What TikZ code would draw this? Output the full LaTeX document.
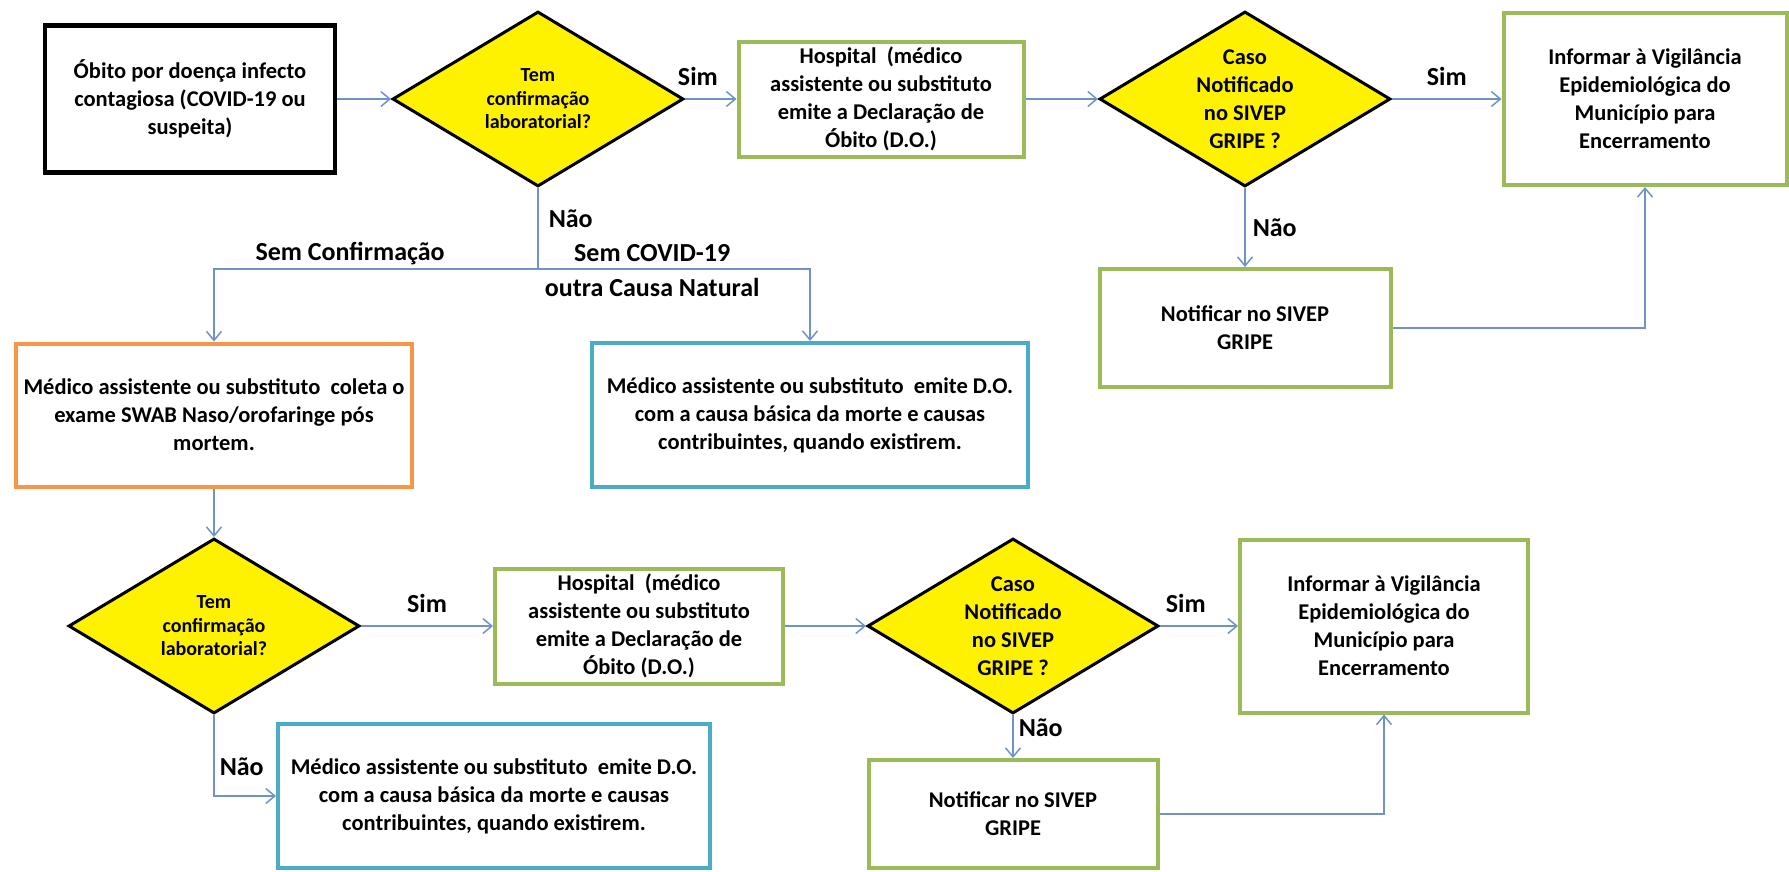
\documentclass[tikz,border=0pt]{standalone}
\usepackage{fontspec}
\setmainfont{Carlito}
\usetikzlibrary{shapes.geometric,arrows.meta}
\definecolor{boxgreen}{HTML}{9BBB59}
\definecolor{boxorange}{HTML}{F79646}
\definecolor{boxblue}{HTML}{4BACC6}
\definecolor{flowblue}{HTML}{6F93C6}
\begin{document}
\begin{tikzpicture}[x=1pt, y=-1pt,
                    every node/.style={font=\fontsize{22.5}{28}\selectfont\bfseries, align=center, inner sep=0pt},
                    box/.style={draw=boxgreen, line width=4pt},
                    decision/.style={diamond, draw=black, fill=yellow, line width=3pt, aspect=1.66,
                                     minimum width=291, minimum height=175},
                    lbl/.style={font=\fontsize{26}{30}\selectfont\bfseries},
                    flow/.style={draw=flowblue, line width=1.5pt, -{Straight Barb[length=9pt, width=15pt]}}]
  \useasboundingbox (0,0) rectangle (1789,871);
  \node[box, draw=black, line width=4.5pt, minimum width=290, minimum height=147] (start) at (190,99)
    {Óbito por doença infecto\\contagiosa (COVID-19 ou\\suspeita)};
  \node[decision, font=\fontsize{20}{23.5}\selectfont\bfseries] (conf1) at (538,99)
    {Tem\\confirmação\\laboratorial?};
  \node[box, minimum width=285, minimum height=115] (hosp1) at (881,99)
    {Hospital~ (médico\\assistente ou substituto\\emite a Declaração de\\Óbito (D.O.)};
  \node[decision] (notif1q) at (1245,99) {Caso\\Notificado\\no SIVEP\\GRIPE ?};
  \node[box, minimum width=283, minimum height=172] (info1) at (1645,99)
    {Informar à Vigilância\\Epidemiológica do\\Município para\\Encerramento};
  \node[box, minimum width=291, minimum height=118] (notif1) at (1245,328) {Notificar no SIVEP\\GRIPE};
  \node[box, draw=boxorange, minimum width=396, minimum height=143] (coleta) at (214,415)
    {Médico assistente ou substituto~ coleta o\\exame SWAB Naso/orofaringe pós\\mortem.};
  \node[box, draw=boxblue, minimum width=436, minimum height=144] (emite1) at (810,415)
    {Médico assistente ou substituto~ emite D.O.\\com a causa básica da morte e causas\\contribuintes, quando existirem.};
  \node[decision, font=\fontsize{20}{23.5}\selectfont\bfseries] (conf2) at (214,626)
    {Tem\\confirmação\\laboratorial?};
  \node[box, minimum width=288, minimum height=115] (hosp2) at (639,626)
    {Hospital~ (médico\\assistente ou substituto\\emite a Declaração de\\Óbito (D.O.)};
  \node[decision] (notif2q) at (1013,626) {Caso\\Notificado\\no SIVEP\\GRIPE ?};
  \node[box, minimum width=288, minimum height=173] (info2) at (1384,626)
    {Informar à Vigilância\\Epidemiológica do\\Município para\\Encerramento};
  \node[box, minimum width=289, minimum height=108] (notif2) at (1013,814) {Notificar no SIVEP\\GRIPE};
  \node[box, draw=boxblue, minimum width=432, minimum height=144] (emite2) at (494,796)
    {Médico assistente ou substituto~ emite D.O.\\com a causa básica da morte e causas\\contribuintes, quando existirem.};
  \coordinate (split) at (538,269);

  \draw[flow] (start) -- (conf1);
  \draw[flow] (conf1.east) -- node[lbl, above=13pt, pos=0.25] {Sim} (hosp1.west);
  \draw[flow] (hosp1) -- (notif1q);
  \draw[flow] (notif1q.east) -- node[lbl, above=13pt] {Sim} (info1.west);
  \draw[flow] (notif1q.south) -- node[lbl, right=7pt, pos=0.5] {Não} (notif1.north);
  \draw[flow] (notif1.east) -| (info1.south);
  \draw[flow, -] (conf1.south) -- node[lbl, right=10pt, pos=0.38] {Não} (split);
  \draw[flow] (split) -| node[lbl, above=3pt, pos=0.29] {Sem Confirmação} (coleta.north);
  \draw[flow] (split) -| node[lbl, above=7pt, pos=0.21] {Sem COVID-19}
                         node[lbl, below=8pt, pos=0.21] {outra Causa Natural} (emite1.north);
  \draw[flow] (coleta) -- (conf2);
  \draw[flow] (conf2.east) -- node[lbl, above=13pt] {Sim} (hosp2.west);
  \draw[flow] (hosp2) -- (notif2q);
  \draw[flow] (notif2q.east) -- node[lbl, above=13pt, pos=0.33] {Sim} (info2.west);
  \draw[flow] (notif2q.south) -- node[lbl, right=5pt, pos=0.3] {Não} (notif2.north);
  \draw[flow] (notif2.east) -| (info2.south);
  \draw[flow] (conf2.south) |- node[lbl, right=5pt, pos=0.32] {Não} (emite2.west);
\end{tikzpicture}
\end{document}
